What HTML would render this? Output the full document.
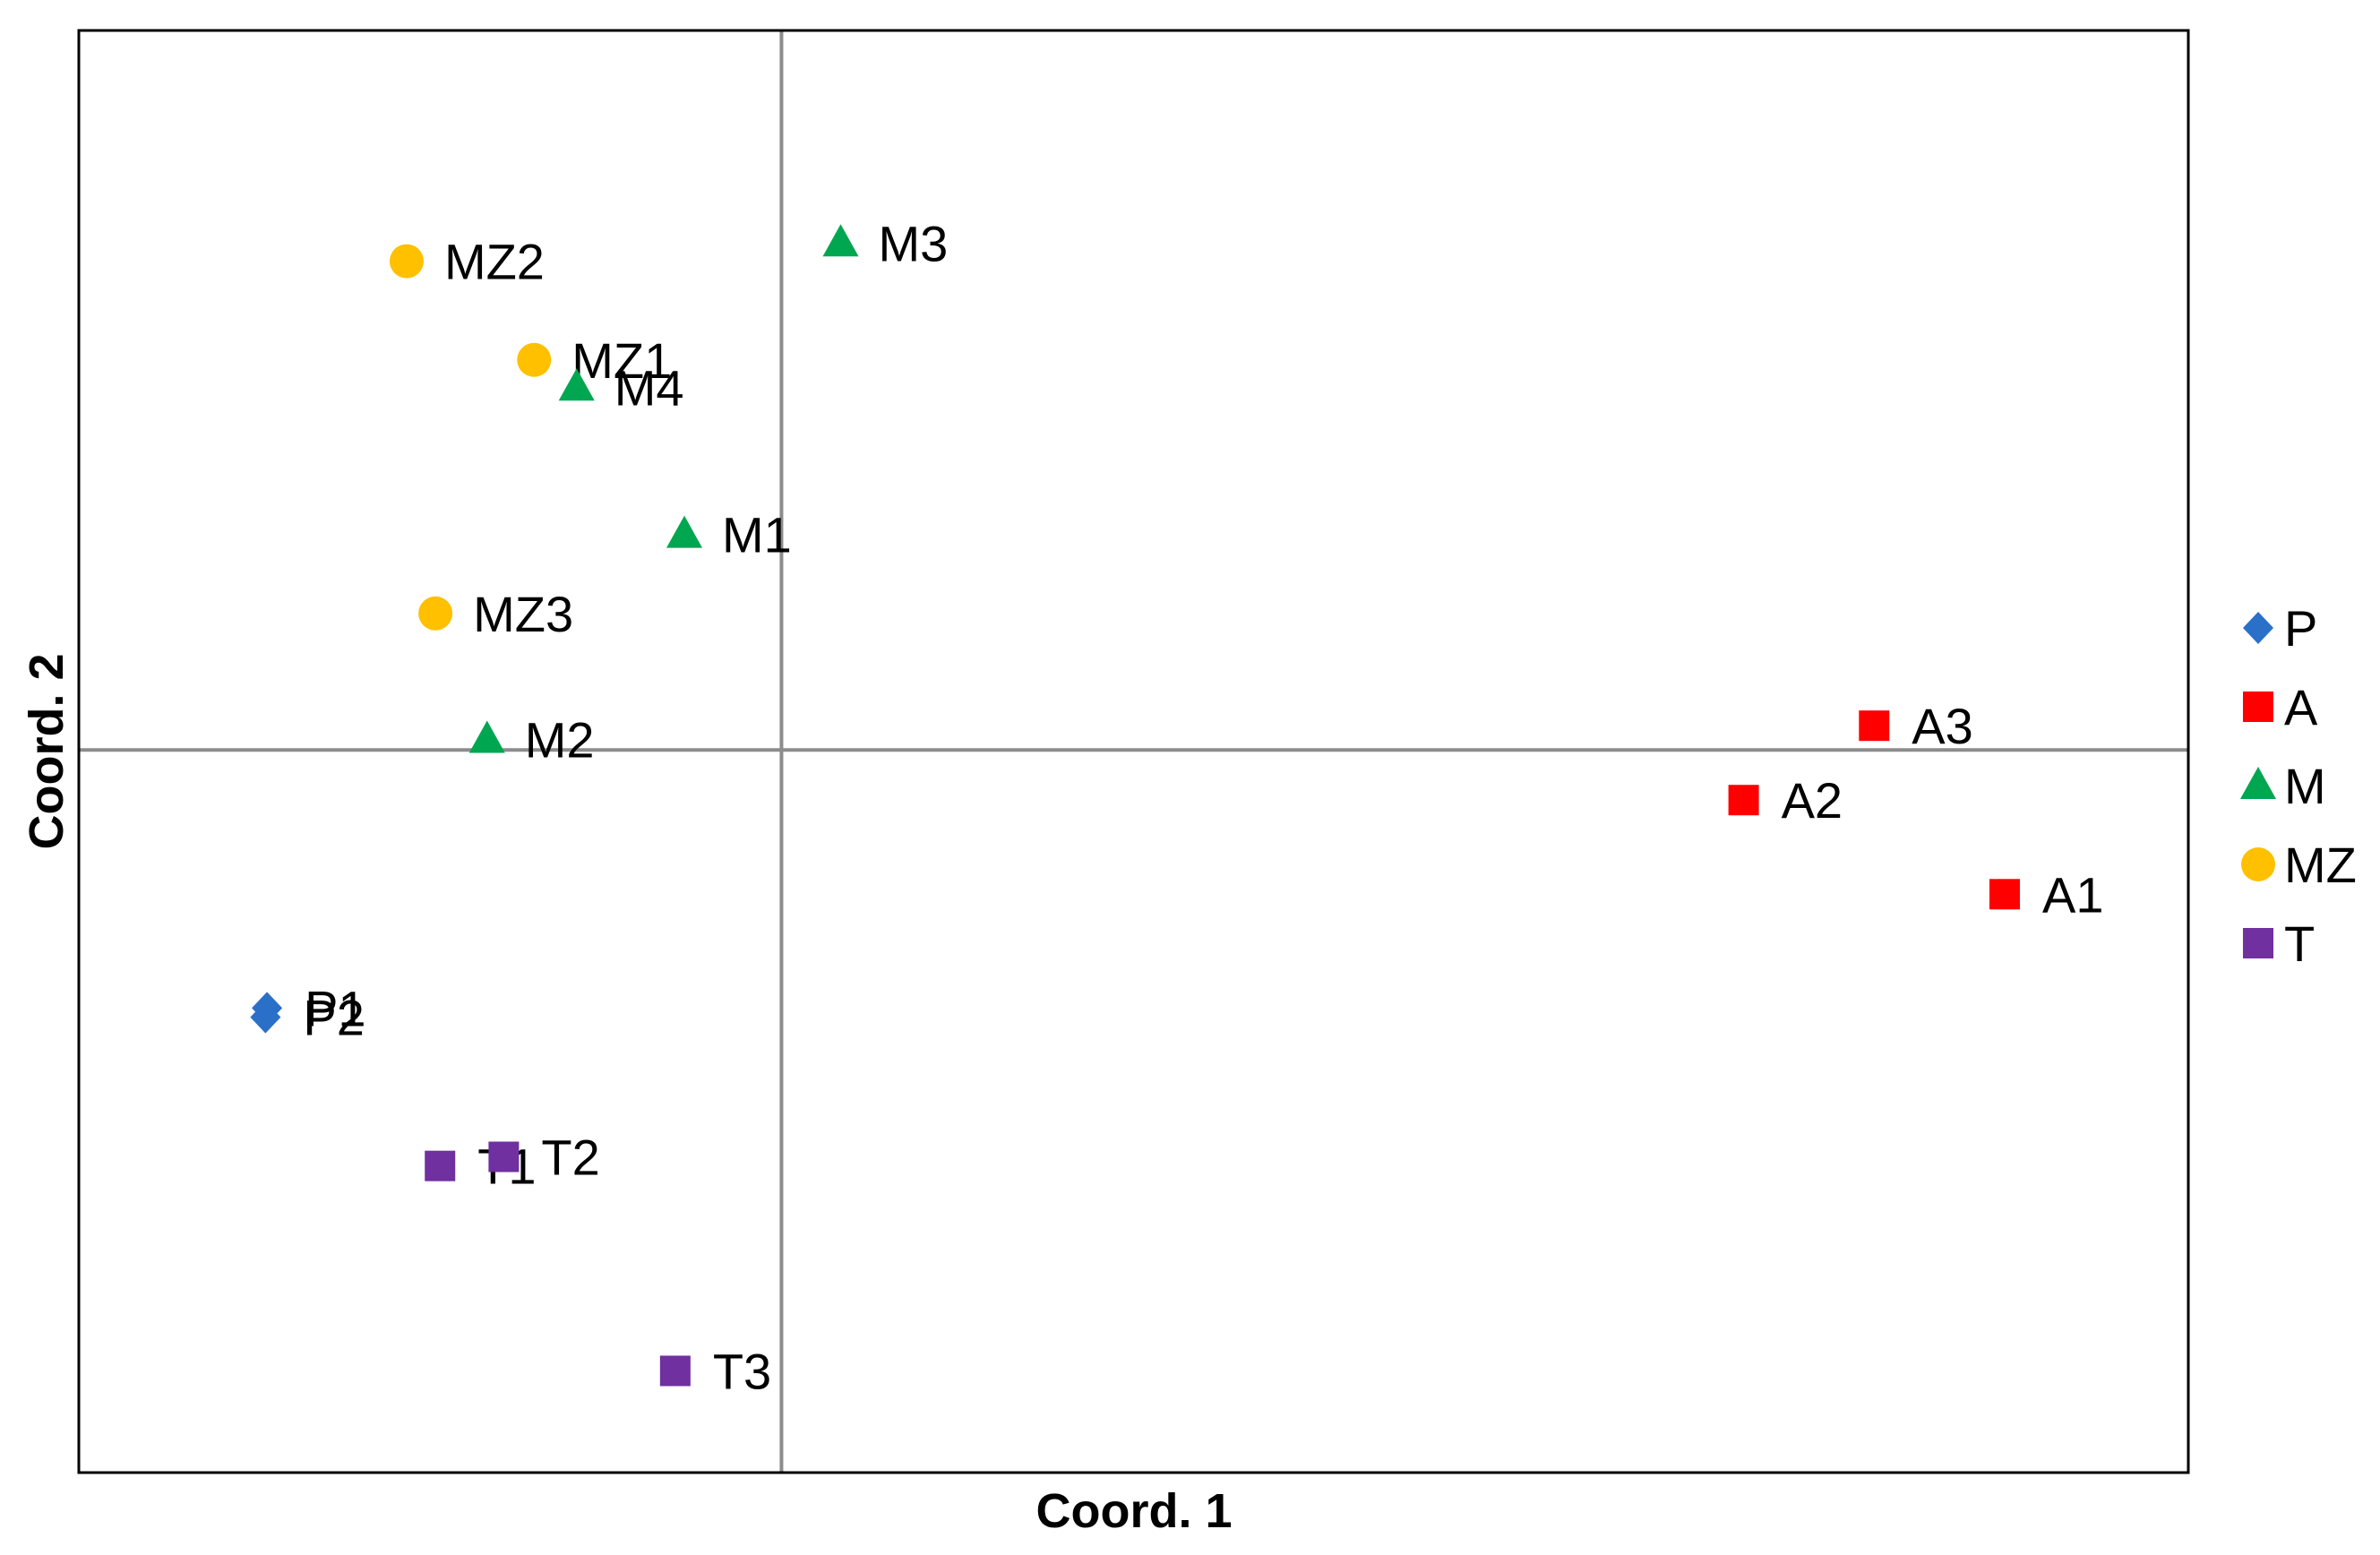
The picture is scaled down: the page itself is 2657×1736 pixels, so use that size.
<!DOCTYPE html>
<html><head><meta charset="utf-8"><style>
html,body{margin:0;padding:0;background:#fff;}
svg{display:block;font-family:"Liberation Sans",Arial,sans-serif;}
</style></head><body>
<svg id="chart" width="2657" height="1736" viewBox="0 0 2657 1736" xmlns="http://www.w3.org/2000/svg">
<rect x="0" y="0" width="2657" height="1736" fill="#fff"/>
<g id="marks"></g>
<rect x="88" y="34" width="2355" height="1610" fill="none" stroke="#000" stroke-width="3"/>
<text x="1266" y="1705" font-size="54" font-weight="bold" text-anchor="middle">Coord. 1</text>
<text x="70" y="839" font-size="54" font-weight="bold" text-anchor="middle" transform="rotate(-90 70 839)">Coord. 2</text>
<g id="legend"></g>
</svg>
<script>
const labels = ["MZ2","MZ1","M4","M1","MZ3","M2","M3","P1","P2","T1","T2","T3","A3","A2","A1"];
const groups = ["MZ","MZ","M","M","MZ","M","M","P","P","T","T","T","A","A","A"];
const xValues = [-2.47,-1.63,-1.35,-0.64,-2.28,-1.94,0.39,-3.39,-3.40,-2.25,-1.83,-0.70,7.20,6.34,8.06];
const yValues = [3.22,2.57,2.39,1.42,0.90,0.07,3.34,-1.70,-1.76,-2.74,-2.68,-4.09,0.16,-0.33,-0.95];
const legendGroups = ["P","A","M","MZ","T"];

const colors = {P:"#2a70c8",A:"#ff0000",M:"#00a650",MZ:"#ffc000",T:"#7030a0"};
const shapes = {P:"diamond",A:"square",M:"triangle",MZ:"circle",T:"square"};
const X0 = 88, X1 = 2443, Y0 = 34, Y1 = 1644;
const xMin = -4.63, xMax = 9.27, yMin = -4.76, yMax = 4.74;
function xs(v){return X0 + (v - xMin) / (xMax - xMin) * (X1 - X0);}
function ys(v){return Y1 - (v - yMin) / (yMax - yMin) * (Y1 - Y0);}
const NS = "http://www.w3.org/2000/svg";
const marks = document.getElementById("marks");
const legend = document.getElementById("legend");

function mk(tag, attrs, parent){
  const e = document.createElementNS(NS, tag);
  for (const k in attrs) e.setAttribute(k, attrs[k]);
  parent.appendChild(e);
  return e;
}
function marker(g, cx, cy, parent){
  const c = colors[g], s = shapes[g];
  let e;
  if (s === "circle") e = mk("circle", {cx:cx, cy:cy, r:19, fill:c}, parent);
  else if (s === "square") e = mk("rect", {x:cx-17, y:cy-17, width:34, height:34, fill:c}, parent);
  else if (s === "triangle") e = mk("polygon", {points:`${cx},${cy-21} ${cx-20},${cy+15} ${cx+20},${cy+15}`, fill:c}, parent);
  else e = mk("polygon", {points:`${cx},${cy-18} ${cx+17},${cy} ${cx},${cy+18} ${cx-17},${cy}`, fill:c}, parent);
  return e;
}

// zero lines
const vz = mk("line", {x1:xs(0), x2:xs(0), y1:Y0, y2:Y1, stroke:"#8c8c8c", "stroke-width":4}, marks);


const hz = mk("line", {x1:X0, x2:X1, y1:ys(0), y2:ys(0), stroke:"#8c8c8c", "stroke-width":4}, marks);



for (let i = 0; i < labels.length; i++){
  const cx = xs(xValues[i]), cy = ys(yValues[i]);
  const m = marker(groups[i], cx, cy, marks);
  
  
  const t = mk("text", {x:cx+42, y:cy+20, "font-size":56, fill:"#000"}, marks);
  t.textContent = labels[i];
  
  
}

for (let i = 0; i < legendGroups.length; i++){
  const g = legendGroups[i];
  const cy = 701 + i * 88;
  const m = marker(g, 2521, cy, legend);
  
  
  const t = mk("text", {x:2550, y:cy+20, "font-size":56, fill:"#000"}, legend);
  t.textContent = g;
  
  
}
</script>
</body></html>
